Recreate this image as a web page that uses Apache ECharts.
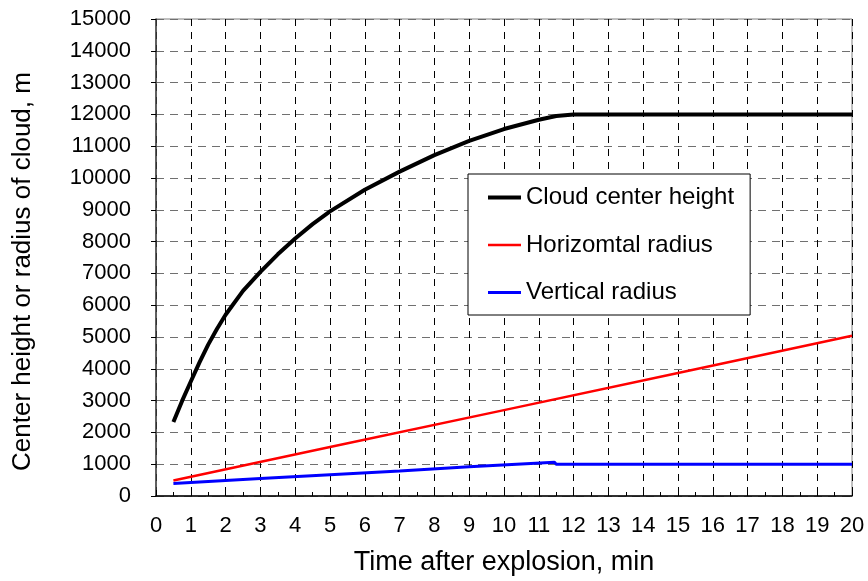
<!DOCTYPE html>
<html>
<head>
<meta charset="utf-8">
<script src="https://cdn.jsdelivr.net/npm/echarts@6/dist/echarts.min.js"></script>
<style>html,body{margin:0;padding:0;background:#fff}#c{width:868px;height:581px}</style>
</head>
<body>
<div id="c"></div>
<script>
var xTicks = [0,1,2,3,4,5,6,7,8,9,10,11,12,13,14,15,16,17,18,19,20];
var yTicks = [0,1000,2000,3000,4000,5000,6000,7000,8000,9000,10000,11000,12000,13000,14000,15000];
var seriesNames = ['Cloud center height', 'Horizomtal radius', 'Vertical radius'];
var heightT = [0.5, 0.75, 1, 1.25, 1.5, 1.75, 2, 2.5, 3, 3.5, 4, 4.5, 5, 6, 7, 8, 9, 10, 11, 11.5, 12, 20];
var heightV = [2330, 2990, 3600, 4200, 4760, 5250, 5700, 6450, 7050, 7600, 8100, 8550, 8950, 9630, 10200, 10720, 11170, 11540, 11830, 11950, 12000, 12000];
var hRadiusT = [0.5, 5, 10, 15, 20];
var hRadiusV = [490, 1540, 2700, 3870, 5040];
var vRadiusT = [0.5, 3, 7, 9, 11.45, 11.5, 20];
var vRadiusV = [390, 550, 790, 920, 1065, 1000, 1000];

function pairs(t, v){ return t.map(function(x,i){ return [x, v[i]]; }); }

var font = 'Liberation Sans, Arial, sans-serif';
var chart = echarts.init(document.getElementById('c'));
chart.setOption({
  animation: false,
  backgroundColor: '#fff',
  grid: { left: 156, right: 16, top: 19, bottom: 81, show: true, borderColor: '#808080', borderWidth: 1 },
  legend: {
    orient: 'vertical', left: 468, top: 174,
    padding: [10, 16, 9, 20],
    itemWidth: 33, itemHeight: 14, itemGap: 20.5,
    backgroundColor: '#fff', borderColor: '#000', borderWidth: 1,
    textStyle: { fontFamily: font, fontSize: 24, color: '#000', lineHeight: 27 },
    data: [
      { name: seriesNames[0], icon: 'path://M0,0M0,14M0,5H33V9H0Z' },
      { name: seriesNames[1], icon: 'path://M0,0M0,14M0,5.75H33V8.25H0Z' },
      { name: seriesNames[2], icon: 'path://M0,0M0,14M0,5.5H33V8.5H0Z' }
    ]
  },
  xAxis: {
    type: 'value', min: xTicks[0], max: xTicks[xTicks.length-1], interval: 1,
    name: 'Time after explosion, min', nameLocation: 'middle', nameGap: 53,
    nameTextStyle: { fontFamily: font, fontSize: 27, color: '#000' },
    axisLine: { show: true, onZero: false, lineStyle: { color: '#000', width: 1.5 } },
    axisTick: { show: true, inside: true, length: 6, lineStyle: { color: '#000' } },
    minorTick: { show: true, splitNumber: 2, length: 4, lineStyle: { color: '#000' } },
    axisLabel: { fontFamily: font, fontSize: 22, color: '#000', margin: 19 },
    splitLine: { show: true, lineStyle: { color: '#000', type: [7, 6], width: 1 } }
  },
  yAxis: {
    type: 'value', min: yTicks[0], max: yTicks[yTicks.length-1], interval: 1000,
    name: 'Center height or radius of cloud, m', nameLocation: 'middle', nameGap: 120,
    nameTextStyle: { fontFamily: font, fontSize: 26, color: '#000', padding: [0, 28, 0, 0] },
    axisLine: { show: true, onZero: false, lineStyle: { color: '#404040', width: 1.5 } },
    axisTick: { show: true, inside: false, length: 5, lineStyle: { color: '#000' } },
    axisLabel: { fontFamily: font, fontSize: 22, color: '#000', margin: 25,
      formatter: function(v){ return String(v); } },
    splitLine: { show: true, lineStyle: { color: '#707070', type: [8, 6], width: 1 } }
  },
  series: [
    { name: seriesNames[0], type: 'line', data: pairs(heightT, heightV), symbol: 'none', smooth: false,
      lineStyle: { color: '#000', width: 4, join: 'round' }, itemStyle: { color: '#000' } },
    { name: seriesNames[1], type: 'line', data: pairs(hRadiusT, hRadiusV), symbol: 'none',
      lineStyle: { color: '#ff0000', width: 2.5 }, itemStyle: { color: '#ff0000' } },
    { name: seriesNames[2], type: 'line', data: pairs(vRadiusT, vRadiusV), symbol: 'none',
      lineStyle: { color: '#0000ff', width: 3 }, itemStyle: { color: '#0000ff' } }
  ]
});
</script>
</body>
</html>
